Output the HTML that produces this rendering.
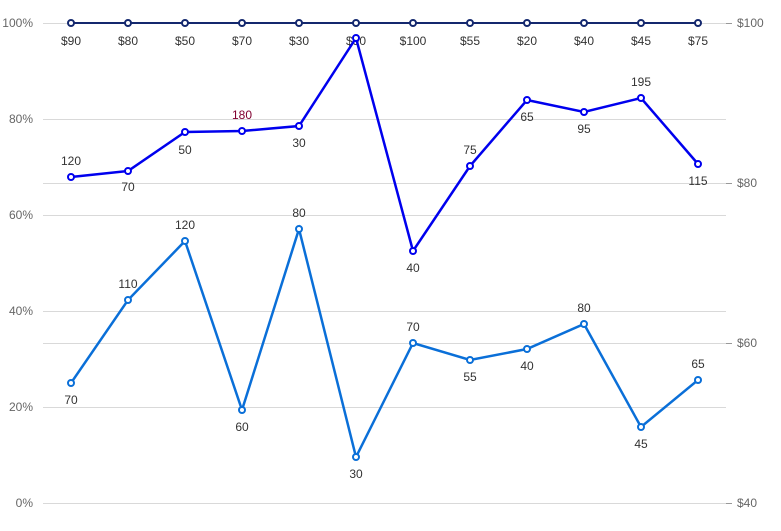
<!DOCTYPE html>
<html><head><meta charset="utf-8"><style>
html,body{margin:0;padding:0;background:#fff;}
svg{display:block;font-family:"Liberation Sans",sans-serif;}
</style></head><body>
<svg width="781" height="531" viewBox="0 0 781 531" xmlns="http://www.w3.org/2000/svg">
<g stroke="#d9d9d9" stroke-width="1">
<line x1="43" x2="726" y1="23.5" y2="23.5"/>
<line x1="43" x2="726" y1="119.5" y2="119.5"/>
<line x1="43" x2="726" y1="183.5" y2="183.5"/>
<line x1="43" x2="726" y1="215.5" y2="215.5"/>
<line x1="43" x2="726" y1="311.5" y2="311.5"/>
<line x1="43" x2="726" y1="343.5" y2="343.5"/>
<line x1="43" x2="726" y1="407.5" y2="407.5"/>
<line x1="43" x2="726" y1="503.5" y2="503.5"/>
</g>
<g stroke="#999" stroke-width="1">
<line x1="726" x2="732" y1="23.5" y2="23.5"/>
<line x1="726" x2="732" y1="183.5" y2="183.5"/>
<line x1="726" x2="732" y1="343.5" y2="343.5"/>
<line x1="726" x2="732" y1="503.5" y2="503.5"/>
</g>
<g fill="#666" font-size="12" text-anchor="end">
<text x="33" y="27">100%</text><text x="33" y="123">80%</text><text x="33" y="219">60%</text>
<text x="33" y="315">40%</text><text x="33" y="411">20%</text><text x="33" y="507">0%</text>
</g>
<g fill="#666" font-size="12">
<text x="737" y="27">$100</text><text x="737" y="187">$80</text><text x="737" y="347">$60</text><text x="737" y="507">$40</text>
</g>
<polyline fill="none" stroke="#14286e" stroke-width="2" points="71,23 128,23 185,23 242,23 299,23 356,23 413,23 470,23 527,23 584,23 641,23 698,23"/>
<g fill="#fff" stroke="#14286e" stroke-width="2">
<circle cx="71" cy="23" r="3"/><circle cx="128" cy="23" r="3"/><circle cx="185" cy="23" r="3"/><circle cx="242" cy="23" r="3"/><circle cx="299" cy="23" r="3"/><circle cx="356" cy="23" r="3"/><circle cx="413" cy="23" r="3"/><circle cx="470" cy="23" r="3"/><circle cx="527" cy="23" r="3"/><circle cx="584" cy="23" r="3"/><circle cx="641" cy="23" r="3"/><circle cx="698" cy="23" r="3"/>
</g>
<g fill="#333" font-size="12" text-anchor="middle">
<text x="71" y="45">$90</text><text x="128" y="45">$80</text><text x="185" y="45">$50</text><text x="242" y="45">$70</text><text x="299" y="45">$30</text><text x="356" y="45">$90</text><text x="413" y="45">$100</text><text x="470" y="45">$55</text><text x="527" y="45">$20</text><text x="584" y="45">$40</text><text x="641" y="45">$45</text><text x="698" y="45">$75</text>
</g>
<polyline fill="none" stroke="#0000ee" stroke-width="2.5" points="71,177 128,171 185,132 242,131 299,126 356,38 413,251 470,166 527,100 584,112 641,98 698,164"/>
<g fill="#fff" stroke="#0000ee" stroke-width="2">
<circle cx="71" cy="177" r="3"/><circle cx="128" cy="171" r="3"/><circle cx="185" cy="132" r="3"/><circle cx="242" cy="131" r="3"/><circle cx="299" cy="126" r="3"/><circle cx="356" cy="38" r="3"/><circle cx="413" cy="251" r="3"/><circle cx="470" cy="166" r="3"/><circle cx="527" cy="100" r="3"/><circle cx="584" cy="112" r="3"/><circle cx="641" cy="98" r="3"/><circle cx="698" cy="164" r="3"/>
</g>
<g fill="#333" font-size="12" text-anchor="middle">
<text x="71" y="165">120</text><text x="128" y="191">70</text><text x="185" y="154">50</text><text x="242" y="119" fill="#800030">180</text><text x="299" y="147">30</text><text x="413" y="272">40</text><text x="470" y="154">75</text><text x="527" y="121">65</text><text x="584" y="133">95</text><text x="641" y="86">195</text><text x="698" y="185">115</text>
</g>
<polyline fill="none" stroke="#0a6fd8" stroke-width="2.5" points="71,383 128,300 185,241 242,410 299,229 356,457 413,343 470,360 527,349 584,324 641,427 698,380"/>
<g fill="#fff" stroke="#0a6fd8" stroke-width="2">
<circle cx="71" cy="383" r="3"/><circle cx="128" cy="300" r="3"/><circle cx="185" cy="241" r="3"/><circle cx="242" cy="410" r="3"/><circle cx="299" cy="229" r="3"/><circle cx="356" cy="457" r="3"/><circle cx="413" cy="343" r="3"/><circle cx="470" cy="360" r="3"/><circle cx="527" cy="349" r="3"/><circle cx="584" cy="324" r="3"/><circle cx="641" cy="427" r="3"/><circle cx="698" cy="380" r="3"/>
</g>
<g fill="#333" font-size="12" text-anchor="middle">
<text x="71" y="404">70</text><text x="128" y="288">110</text><text x="185" y="229">120</text><text x="242" y="431">60</text><text x="299" y="217">80</text><text x="356" y="478">30</text><text x="413" y="331">70</text><text x="470" y="381">55</text><text x="527" y="370">40</text><text x="584" y="312">80</text><text x="641" y="448">45</text><text x="698" y="368">65</text>
</g>
</svg>
</body></html>
